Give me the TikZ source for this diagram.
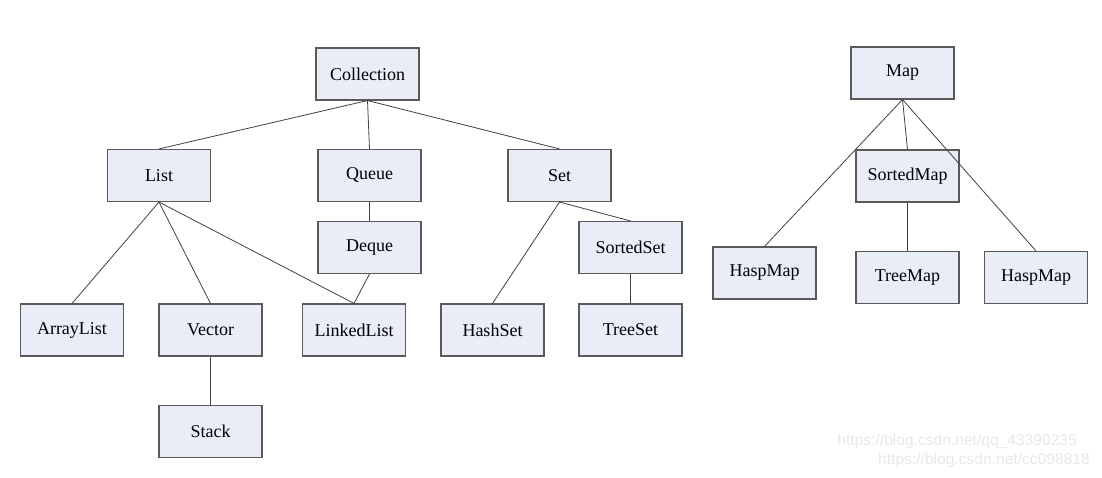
\documentclass[tikz,border=0pt]{standalone}
\usepackage{fontspec}
\setmainfont{Liberation Serif}
\newfontfamily\boxfont{Liberation Serif}
\newfontfamily\wmfont{Liberation Sans}
\usepackage{tikz}
\usetikzlibrary{calc}
\definecolor{boxfill}{RGB}{232,237,248}
\definecolor{boxline}{RGB}{90,90,90}
\definecolor{wmark}{RGB}{232,232,232}

\begin{document}
\begin{tikzpicture}
  [
    x=1pt,y=-1pt,
    cls/.style={
      draw=boxline,
      line width=1.1pt,
      fill=boxfill,
      minimum width=103pt,
      minimum height=52pt,
      inner sep=0pt,
      font=\boxfont\fontsize{18}{20}\selectfont
    },
    link/.style={
      draw=black!75,
      line width=0.8pt
    },
    wm/.style={
      text=wmark,
      anchor=east,
      inner sep=0pt,
      font=\wmfont\fontsize{15.6}{17}\selectfont
    }
  ]
  \useasboundingbox (0,0) rectangle (1102,478);
  % collection tree
  \node [cls] (coll) at (367.5,74) {Collection};
  \node [cls] (list) at (159,175.5) {List};
  \node [cls] (queue) at (369.5,175.5) {Queue};
  \node [cls] (set) at (559.5,175.5) {Set};
  \node [cls] (deque) at (369.5,247.5) {Deque};
  \node [cls] (sortset) at (630.5,247.5) {SortedSet};
  \node [cls] (alist) at (72,330) {ArrayList};
  \node [cls] (vector) at (210.5,330) {Vector};
  \node [cls] (llist) at (354,330) {LinkedList};
  \node [cls] (hset) at (492.5,330) {HashSet};
  \node [cls] (tset) at (630.5,330) {TreeSet};
  \node [cls] (stack) at (210.5,431.5) {Stack};
  % map tree
  \node [cls] (map) at (902.5,73) {Map};
  \node [cls] (sortmap) at (907.5,176) {SortedMap};
  \node [cls] (hmapa) at (764.5,273) {HaspMap};
  \node [cls] (tmap) at (907.5,277.5) {TreeMap};
  \node [cls] (hmapb) at (1036,277.5) {HaspMap};
    % links
    \draw [link] (coll.south) -- (list.north);
    \draw [link] (coll.south) -- (queue.north);
    \draw [link] (coll.south) -- (set.north);
    \draw [link] (list.south) -- (alist.north);
    \draw [link] (list.south) -- (vector.north);
    \draw [link] (list.south) -- (llist.north);
    \draw [link] (queue.south) -- (deque.north);
    \draw [link] (deque.south) -- (llist.north);
    \draw [link] (vector.south) -- (stack.north);
    \draw [link] (set.south) -- (hset.north);
    \draw [link] (set.south) -- (sortset.north);
    \draw [link] (sortset.south) -- (tset.north);
    \draw [link] (map.south) -- (hmapa.north);
    \draw [link] (map.south) -- (sortmap.north);
    \draw [link] (map.south) -- (hmapb.north);
    \draw [link] (sortmap.south) -- (tmap.north);
    % watermark
    \node [wm] (wma) at (1077,441) {https://blog.csdn.net/qq\_43390235};
    \node [wm] (wmb) at (1090,460) {https://blog.csdn.net/cc098818};
  \end{tikzpicture}
\end{document}
